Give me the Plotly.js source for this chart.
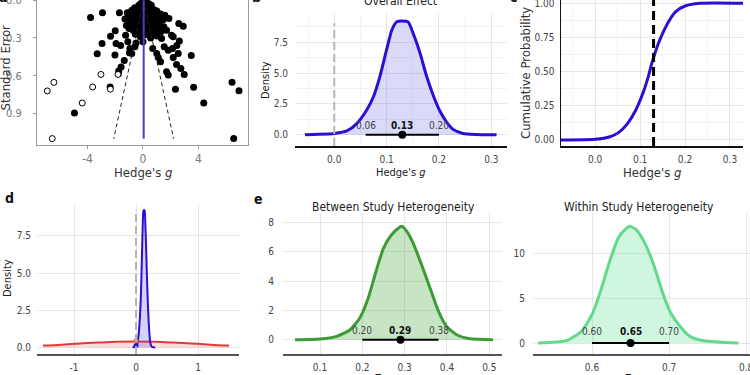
<!DOCTYPE html>
<html><head><meta charset="utf-8">
<script src="https://cdn.plot.ly/plotly-3.0.1.min.js"></script>
<style>html,body{margin:0;padding:0;background:#fff}</style>
</head><body><div id="chart" style="width:750px;height:375px"></div>
<script>
// ---------- DATA ----------
// (a) funnel plot: observed studies
const funnelFilledX = [
 0.0,0.15,0.3,-0.15,0.45,0.6,-0.3,0.1,0.25,-0.05,
 -0.6,-0.4,-0.2,0.0,0.2,0.4,0.6,0.8,-0.8,1.0,0.5,-0.1,0.3,
 -1.0,-0.7,-0.45,-0.25,0.05,0.35,0.55,0.75,0.95,1.2,-0.9,-0.55,0.15,0.45,0.7,1.05,-0.2,
 -1.3,-1.05,-0.75,-0.4,0.0,0.25,0.55,0.85,1.15,1.45,-0.6,-0.15,0.35,0.7,1.0,-0.95,
 -1.2,-0.8,-0.45,0.05,0.2,0.5,0.8,1.2,1.5,-0.3,0.65,0.95,-1.0,
 -0.7,-0.35,0.0,0.3,0.6,0.9,1.3,-0.55,0.15,0.45,0.75,-0.2,0.55,1.0,
 -3.78,-2.92,-1.70,-1.13,-2.0,-2.34,-2.95,-1.94,-1.61,-3.30,-2.02,-0.98,-1.35,-1.58,-1.75,-1.77,-2.37,-4.94,-1.25,-0.94,-0.5,-1.09,-0.81,-0.58,0.0,
 2.58,2.90,1.87,1.58,1.27,1.70,2.06,2.18,2.62,2.44,2.13,1.82,1.53,1.34,0.70,0.99,1.10,1.27,2.54,2.18,2.42,2.73,2.97,3.48,1.70,1.82,2.34,3.65,4.38,6.42,6.92,6.54
];
const funnelFilledY = [
 0.01,0.015,0.02,0.025,0.03,0.04,0.04,0.035,0.045,0.05,
 0.06,0.065,0.07,0.07,0.06,0.065,0.07,0.075,0.08,0.085,0.08,0.085,0.09,
 0.1,0.1,0.1,0.11,0.1,0.11,0.105,0.1,0.11,0.115,0.125,0.13,0.125,0.13,0.125,0.13,0.135,
 0.15,0.16,0.15,0.155,0.15,0.16,0.155,0.15,0.16,0.155,0.175,0.175,0.18,0.175,0.18,0.185,
 0.2,0.2,0.2,0.2,0.21,0.2,0.205,0.2,0.21,0.22,0.225,0.23,0.225,
 0.24,0.25,0.245,0.25,0.255,0.245,0.25,0.27,0.275,0.28,0.27,0.29,0.3,0.285,
 0.138,0.10,0.10,0.10,0.243,0.286,0.344,0.344,0.36,0.425,0.436,0.418,0.48,0.53,0.563,0.585,0.69,0.897,0.278,0.383,0.339,0.33,0.423,0.37,0.33,
 0.185,0.206,0.145,0.119,0.11,0.238,0.278,0.29,0.325,0.36,0.383,0.397,0.37,0.304,0.383,0.423,0.455,0.49,0.423,0.455,0.51,0.542,0.59,0.44,0.569,0.595,0.708,0.692,0.818,0.653,0.72,1.10
];
// (a) funnel plot: imputed (trim-and-fill) studies
const funnelImputedX = [-6.90,-6.42,-6.54,-4.38,-3.63,-3.03,-2.35,-1.80];
const funnelImputedY = [0.721,0.653,1.10,0.817,0.69,0.59,0.707,0.59];
const funnelCenter = 0.05;
const funnelMaxSE = 1.1;
const aTickVals = [-4, 0, 4];
const aTickText = ['-4', '0', '4'];

// (b) posterior density of overall effect
const overallX = [-0.056,-0.03,0.0,0.024,0.043,0.062,0.075,0.087,0.10,0.11,0.119,0.129,0.141,0.151,0.164,0.176,0.189,0.202,0.215,0.227,0.246,0.27,0.31];
const overallY = [0,0.03,0.1,0.3,0.9,2.0,3.1,4.7,6.9,8.5,9.16,9.24,9.16,8.2,6.6,4.8,3.2,1.9,1.0,0.43,0.1,0.02,0];
const overallCI = [0.06, 0.13, 0.20];

// (c) cumulative posterior
const cdfX = [-0.076,0.0,0.033,0.052,0.072,0.089,0.106,0.118,0.126,0.140,0.153,0.166,0.180,0.20,0.233,0.33];
const cdfY = [0,0.005,0.024,0.054,0.12,0.21,0.34,0.46,0.56,0.70,0.80,0.88,0.94,0.98,1.0,1.0];
const posteriorMedian = 0.13;

// (d) prior vs posterior
const priorX = [-1.5,-1.2,-0.9,-0.6,-0.3,0,0.3,0.6,0.9,1.2,1.5];
const priorY = [0.13,0.19,0.27,0.33,0.38,0.40,0.38,0.33,0.27,0.19,0.13];
const densityAtZeroX = [0, 0];
const densityAtZeroY = [0.13, 0.45];   // posterior, prior
const dTickVals = [-1, 0, 1];
const dTickText = ['-1', '0', '1'];

// (e) between-study heterogeneity
const tauX = [0.041,0.1,0.139,0.171,0.194,0.214,0.230,0.25,0.269,0.285,0.293,0.305,0.320,0.340,0.36,0.38,0.399,0.423,0.454,0.509];
const tauY = [0,0.05,0.23,0.68,1.48,2.84,4.43,6.25,7.16,7.6,7.73,7.39,6.59,5.11,3.52,1.93,0.91,0.34,0.07,0];
const tauCI = [0.20, 0.29, 0.38];

// (f) within-study heterogeneity
const sigmaX = [0.53,0.568,0.586,0.6,0.611,0.623,0.634,0.643,0.649,0.657,0.668,0.68,0.691,0.702,0.714,0.727,0.745,0.79];
const sigmaY = [0,0.3,1.3,3.2,5.8,9.2,11.8,12.75,13.1,12.75,11.3,8.8,5.8,3.4,1.9,0.75,0.26,0];
const sigmaCI = [0.60, 0.65, 0.70];

// ---------- LAYOUT HELPERS ----------
const FONT = "DejaVu Sans Condensed, DejaVu Sans, sans-serif";
const PX = p => p / 750;
const PY = p => 1 - p / 375;
const BLUE = '#2b0fd3';

function ciTraces(ci, xa, ya) {
  return [
    {x:[ci[0], ci[2]], y:[0,0], xaxis:xa, yaxis:ya, mode:'lines', line:{color:'black', width:2}, hoverinfo:'skip'},
    {x:[ci[1]], y:[0], xaxis:xa, yaxis:ya, mode:'markers', marker:{color:'black', size:8}, hoverinfo:'skip'}
  ];
}
function ciAnnots(ci, xa, ya, labY) {
  return ci.map((v,i) => ({
    x:v, y:labY, xref:xa, yref:ya, xanchor:'center', yanchor:'middle',
    text: i===1 ? '<b>'+v.toFixed(2)+'</b>' : v.toFixed(2),
    showarrow:false, font:{size:10, color: i===1 ? '#111' : '#444', family:FONT}
  }));
}
function lab(px, py, text, size, color, angle) {
  const a = {x:PX(px), y:PY(py), xref:'paper', yref:'paper', xanchor:'center', yanchor:'middle',
    text:text, showarrow:false, font:{size:size, color:color, family:FONT}};
  if (angle) a.textangle = angle;
  return a;
}

const traces = [
  // (a)
  {x:funnelFilledX, y:funnelFilledY, xaxis:'x', yaxis:'y', mode:'markers', marker:{color:'black', size:7}},
  {x:funnelImputedX, y:funnelImputedY, xaxis:'x', yaxis:'y', mode:'markers', marker:{color:'white', size:6, line:{color:'black', width:1}}},
  {x:[funnelCenter, funnelCenter - 1.96*funnelMaxSE], y:[0, funnelMaxSE], xaxis:'x', yaxis:'y', mode:'lines', line:{color:'#222', width:1, dash:'4px,3px'}},
  {x:[funnelCenter, funnelCenter + 1.96*funnelMaxSE], y:[0, funnelMaxSE], xaxis:'x', yaxis:'y', mode:'lines', line:{color:'#222', width:1, dash:'4px,3px'}},
  {x:[funnelCenter, funnelCenter], y:[0, funnelMaxSE], xaxis:'x', yaxis:'y', mode:'lines', line:{color:'#4a3ccf', width:2}},
  // (b)
  {x:overallX, y:overallY, xaxis:'x2', yaxis:'y2', mode:'lines', fill:'tozeroy', fillcolor:'rgba(80,80,225,0.22)', line:{color:BLUE, width:3, shape:'spline', smoothing:0.6}},
  ...ciTraces(overallCI, 'x2', 'y2'),
  // (c)
  {x:cdfX, y:cdfY, xaxis:'x3', yaxis:'y3', mode:'lines', line:{color:BLUE, width:3, shape:'spline', smoothing:0.6}},
  // (d)
  {x:priorX, y:priorY, xaxis:'x4', yaxis:'y4', mode:'lines', fill:'tozeroy', fillcolor:'rgba(235,80,80,0.18)', line:{color:'#e23a35', width:2, shape:'spline'}},
  {x:overallX, y:overallY, xaxis:'x4', yaxis:'y4', mode:'lines', fill:'tozeroy', fillcolor:'rgba(80,80,225,0.25)', line:{color:BLUE, width:2, shape:'spline', smoothing:0.6}},
  {x:densityAtZeroX, y:densityAtZeroY, xaxis:'x4', yaxis:'y4', mode:'markers', marker:{color:[BLUE,'#e8782e'], size:5}},
  // (e)
  {x:tauX, y:tauY, xaxis:'x5', yaxis:'y5', mode:'lines', fill:'tozeroy', fillcolor:'rgba(70,170,60,0.3)', line:{color:'#3d9b35', width:3, shape:'spline', smoothing:0.6}},
  ...ciTraces(tauCI, 'x5', 'y5'),
  // (f)
  {x:sigmaX, y:sigmaY, xaxis:'x6', yaxis:'y6', mode:'lines', fill:'tozeroy', fillcolor:'rgba(100,225,150,0.3)', line:{color:'#62d98c', width:3, shape:'spline', smoothing:0.6}},
  ...ciTraces(sigmaCI, 'x6', 'y6'),
];

const tf10 = {size:10, color:'#444', family:FONT};
const grid = {showgrid:true, gridcolor:'#e6e6e6', gridwidth:1, zeroline:false};
const noTickMark = {ticks:'outside', ticklen:3, tickcolor:'rgba(0,0,0,0)'};

const layout = {
  width:750, height:375, margin:{l:0,r:0,t:0,b:0}, showlegend:false,
  paper_bgcolor:'white', plot_bgcolor:'white', font:{family:FONT},
  // (a)
  xaxis:{domain:[PX(37), PX(248)], anchor:'y', range:[-7.64, 7.57], tickvals:aTickVals, ticktext:aTickText,
    showline:true, linecolor:'#9a9a9a', linewidth:1, ticks:'outside', ticklen:3, tickcolor:'#9a9a9a',
    showgrid:false, zeroline:false, tickfont:{size:12, color:'#777', family:FONT}},
  yaxis:{domain:[PY(145), 1], anchor:'x', range:[1.151, -0.002], tickvals:[0,0.3,0.6,0.9], tickformat:'.1f',
    showline:true, mirror:true, linecolor:'#9a9a9a', linewidth:1, ticks:'outside', ticklen:3, tickcolor:'#9a9a9a',
    ticklabelstandoff:9, ticklabeloverflow:'allow', showgrid:false, zeroline:false, tickfont:{size:11, color:'#777', family:FONT}},
  // (b)
  xaxis2:{domain:[PX(295), PX(507)], anchor:'y2', range:[-0.075, 0.33], dtick:0.1, tick0:0, tickformat:'.1f', ...grid,
    minor:{dtick:0.05, showgrid:true, gridcolor:'#f3f3f3'}, showline:true, linecolor:'#111', linewidth:1.5, ...noTickMark, tickfont:tf10},
  yaxis2:{domain:[PY(146), PY(14)], anchor:'x2', range:[-0.92, 9.8], dtick:2.5, tick0:0, tickformat:'.1f', ...grid,
    minor:{dtick:1.25, showgrid:true, gridcolor:'#f3f3f3'}, ...noTickMark, ticklen:4, tickfont:tf10},
  // (c)
  xaxis3:{domain:[PX(561), PX(743)], anchor:'y3', range:[-0.076, 0.329], dtick:0.1, tick0:0, tickformat:'.1f', ...grid,
    minor:{dtick:0.05, showgrid:true, gridcolor:'#f3f3f3'}, showline:true, linecolor:'#111', linewidth:1.5, ...noTickMark, tickfont:tf10},
  yaxis3:{domain:[PY(146), 1], anchor:'x3', range:[-0.044, 1.024], dtick:0.25, tick0:0, tickformat:'.2f', ...grid,
    minor:{dtick:0.125, showgrid:true, gridcolor:'#f3f3f3'}, showline:true, linecolor:'#111', linewidth:1.5, ...noTickMark,
    ticklabeloverflow:'allow', tickfont:tf10},
  // (d)
  xaxis4:{domain:[PX(37), PX(239)], anchor:'y4', range:[-1.597, 1.661], tickvals:dTickVals, ticktext:dTickText, ...grid,
    showline:true, linecolor:'#555', linewidth:2, ...noTickMark, tickfont:tf10},
  yaxis4:{domain:[PY(354), PY(205)], anchor:'x4', range:[-0.44, 9.58], dtick:2.5, tick0:0, tickformat:'.1f', ...grid, ...noTickMark, tickfont:tf10},
  // (e)
  xaxis5:{domain:[PX(283), PX(502)], anchor:'y5', range:[0.0125, 0.530], dtick:0.1, tick0:0, tickformat:'.1f', ...grid,
    showline:true, linecolor:'#555', linewidth:2, ...noTickMark, tickfont:tf10},
  yaxis5:{domain:[PY(354), PY(213)], anchor:'x5', range:[-0.97, 8.64], dtick:2, tick0:0, ...grid, ...noTickMark, ticklen:6, tickfont:tf10},
  // (f)
  xaxis6:{domain:[PX(533), 1], anchor:'y6', range:[0.5234, 0.805], dtick:0.1, tick0:0, tickformat:'.1f', ...grid,
    showline:true, linecolor:'#555', linewidth:2, ...noTickMark, ticklabeloverflow:'allow', tickfont:tf10},
  yaxis6:{domain:[PY(354), PY(213)], anchor:'x6', range:[-1.23, 14.6], dtick:5, tick0:0, ...grid, ...noTickMark, ticklen:5, tickfont:tf10},
  shapes:[
    {type:'line', xref:'x2', yref:'y2 domain', x0:0, x1:0, y0:0, y1:0.93, line:{color:'#b5b5b5', width:2, dash:'8px,4px'}},
    {type:'line', xref:'x3', yref:'y3 domain', x0:posteriorMedian, x1:posteriorMedian, y0:0, y1:1, line:{color:'black', width:3, dash:'9px,5px'}},
    {type:'line', xref:'x4', yref:'y4 domain', x0:0, x1:0, y0:0, y1:0.97, line:{color:'#b5b5b5', width:2, dash:'8px,4px'}},
  ],
  annotations:[
    ...ciAnnots(overallCI, 'x2', 'y2', 0.75),
    ...ciAnnots(tauCI, 'x5', 'y5', 0.64),
    ...ciAnnots(sigmaCI, 'x6', 'y6', 1.25),
    // axis titles
    lab(143, 172, "Hedge's <i>g</i>", 13, '#333'),
    lab(4.5, 68, 'Standard Error', 13, '#333', -90),
    lab(401, 172, "Hedge's <i>g</i>", 11, '#222'),
    lab(265, 80, 'Density', 11, '#222', -90),
    lab(652, 172, "Hedge's <i>g</i>", 13, '#333'),
    lab(525, 73, 'Cumulative Probability', 13, '#333', -90),
    lab(7, 278, 'Density', 11, '#222', -90),
    lab(130, 379, "Hedge's <i>g</i>", 11, '#222'),
    lab(378, 377, 'τ', 12, '#222'),
    lab(628, 377, 'τ', 12, '#222'),
    // panel titles
    lab(401, 1, 'Overall Effect', 12, '#222'),
    lab(393, 207, 'Between Study Heterogeneity', 12, '#222'),
    lab(639, 207, 'Within Study Heterogeneity', 12, '#222'),
    // panel letters
    lab(3, -3, '<b>a</b>', 14, '#111'),
    lab(256, -3, '<b>b</b>', 14, '#111'),
    lab(513, -3, '<b>c</b>', 14, '#111'),
    lab(9, 198, '<b>d</b>', 14, '#111'),
    lab(258, 199, '<b>e</b>', 14, '#111'),
  ]
};

Plotly.newPlot('chart', traces, layout, {staticPlot:true, displayModeBar:false});
</script>
</body></html>
